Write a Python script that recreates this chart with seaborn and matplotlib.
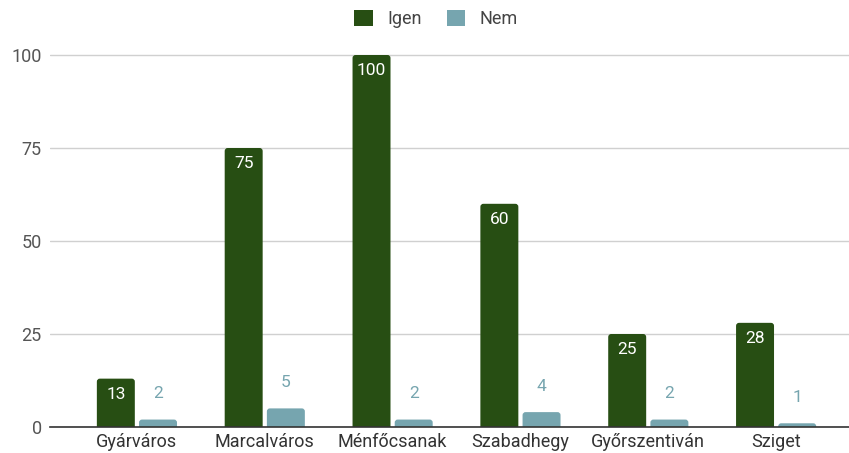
import matplotlib
matplotlib.use("Agg")
import matplotlib.pyplot as plt
import seaborn as sns
import pandas as pd
from matplotlib.patches import Patch, FancyBboxPatch

categories = ["Gyárváros", "Marcalváros", "Ménfőcsanak", "Szabadhegy", "Győrszentiván", "Sziget"]
igen = [13, 75, 100, 60, 25, 28]
nem = [2, 5, 2, 4, 2, 1]
series = ["Igen", "Nem"]
yticks = [0, 25, 50, 75, 100]

df = pd.DataFrame({
    "cat": categories * 2,
    "val": igen + nem,
    "series": ["Igen"] * len(categories) + ["Nem"] * len(categories),
})

sns.set_theme(style="white")
plt.rcParams['font.family'] = ['Roboto', 'DejaVu Sans']

colors = {"Igen": "#274e13", "Nem": "#76a5af"}

fig = plt.figure(figsize=(8.49, 4.53), dpi=100)
ymax = 101
ax = fig.add_axes([50 / 849, 26 / 453, 799 / 849, 372 * (ymax / 100) / 453])

sns.barplot(data=df, x="cat", y="val", hue="series", palette=colors, order=categories,
            hue_order=series, width=0.66, gap=0.1, ax=ax, legend=False, saturation=1)

ax.set_ylim(0, ymax)
ax.set_xlim(-0.68, 5.57)
ax.set_yticks(yticks)
ax.set_yticklabels([str(v) for v in yticks], fontsize=13, color="#555555")
ax.set_xlabel("")
ax.set_ylabel("")
ax.tick_params(axis="x", labelsize=13, labelcolor="#333333", length=0, pad=4)
ax.tick_params(axis="y", length=0, pad=6)
ax.grid(axis="y", color="#d0d0d0", linewidth=1)
ax.set_axisbelow(True)
for s in ["top", "right", "left"]:
    ax.spines[s].set_visible(False)
ax.spines["bottom"].set_color("#333333")
ax.spines["bottom"].set_linewidth(1.2)
ax.spines["bottom"].set_zorder(5)

# data labels
for cont, name in zip(ax.containers, series):
    for bar, v in zip(cont, igen if name == "Igen" else nem):
        x = bar.get_x() + bar.get_width() / 2
        h = bar.get_height()
        if name == "Igen":
            ax.annotate(str(v), (x, h), xytext=(0, -11.5), textcoords="offset points",
                        ha="center", va="center", color="white", fontsize=12.5, zorder=6)
        else:
            ax.annotate(str(v), (x, h), xytext=(0, 18.5), textcoords="offset points",
                        ha="center", va="center", color="#76a5af", fontsize=12.5, zorder=6)

# rounded bar tops
px_per_x = 799 / (5.57 + 0.68)
px_per_y = 372 / 100
r_px = 3.0
rx = r_px / px_per_x
asp = (r_px / px_per_y) / rx
for p in list(ax.patches):
    x, w, h = p.get_x(), p.get_width(), p.get_height()
    fc = p.get_facecolor()
    p.set_visible(False)
    ext = r_px / px_per_y + 0.5
    fb = FancyBboxPatch((x, -ext), w, h + ext, boxstyle=f"round,pad=0,rounding_size={rx}",
                        mutation_aspect=asp, facecolor=fc, edgecolor="none", zorder=3)
    ax.add_patch(fb)

# legend
handles = [Patch(facecolor=colors[s], edgecolor="none", label=s) for s in series]
fig.legend(handles=handles, loc="center", bbox_to_anchor=(436 / 849, 1 - 19 / 453), ncol=2,
           frameon=False, fontsize=13, handlelength=1.0, handleheight=1.0,
           handletextpad=0.8, columnspacing=1.4, labelcolor="#444444")

fig.savefig("out.png", dpi=100)
